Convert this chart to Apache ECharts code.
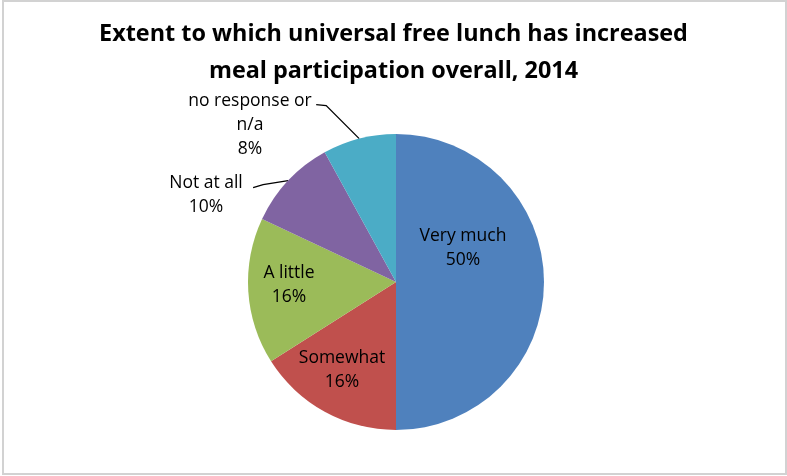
<!DOCTYPE html>
<html>
<head>
<meta charset="utf-8">
<script src="https://cdn.jsdelivr.net/npm/echarts@6/dist/echarts.min.js"></script>
<style>
html,body{margin:0;padding:0;background:#fff;}
#frame{position:absolute;left:2px;top:0px;width:785px;height:475px;border:2px solid #d2d2d2;box-sizing:border-box;}
#chart{position:absolute;left:0;top:0;width:787px;height:476px;}
</style>
</head>
<body>
<div id="frame"></div>
<div id="chart"></div>
<script>
// ---- data ----
const titleText = 'Extent to which universal free lunch has increased\nmeal participation overall, 2014';
const categories = ['Very much', 'Somewhat', 'A little', 'Not at all', 'no response or\nn/a'];
const values = [50, 16, 16, 10, 8];
const colors = ['#4F81BD', '#C0504D', '#9BBB59', '#8064A2', '#4BACC6'];

// ---- layout ----
const center = [396, 282];
const radius = 148;
const FONT = 'Open Sans';
// label placements (layout only)
const labelPlace = [
  {x: 463, y: 248, vAlign: 'middle'},
  {x: 342, y: 370, vAlign: 'middle'},
  {x: 289, y: 285, vAlign: 'middle'},
  {x: 206, y: 171, vAlign: 'top', bend: [-25, 4], end: [-35, 7]},
  {x: 250, y: 89, vAlign: 'top', bend: [-33, -33], end: [-43, -34]}
];
const outside = [false, false, false, true, true];

const total = values.reduce((a, b) => a + b, 0);
function edgePoint(i) {
  let cum = 0;
  for (let k = 0; k < i; k++) cum += values[k];
  const a = (cum + values[i] / 2) / total * Math.PI * 2;
  return [center[0] + radius * Math.sin(a), center[1] - radius * Math.cos(a)];
}

const data = categories.map((name, i) => ({
  name: name,
  value: values[i],
  itemStyle: {color: colors[i]},
  label: {position: outside[i] ? 'outside' : 'inside'},
  labelLine: {show: outside[i]}
}));

const chart = echarts.init(document.getElementById('chart'), null, {renderer: 'canvas'});
chart.setOption({
  backgroundColor: 'transparent',
  animation: false,
  title: {
    text: titleText,
    left: 'center',
    top: 11,
    textStyle: {fontFamily: FONT, fontWeight: 'bold', fontSize: 23.4, lineHeight: 37, color: '#000'}
  },
  series: [{
    type: 'pie',
    center: center,
    radius: radius,
    startAngle: 90,
    clockwise: true,
    avoidLabelOverlap: false,
    data: data,
    label: {
      show: true,
      formatter: p => p.name + '\n' + p.value + '%',
      fontFamily: FONT,
      fontSize: 17.5,
      lineHeight: 24,
      color: '#000',
      align: 'center'
    },
    labelLine: {show: true, length: 20, length2: 10, lineStyle: {color: '#000', width: 1.3}},
    labelLayout: function (params) {
      const i = params.dataIndex;
      const lp = labelPlace[i];
      const res = {x: lp.x, y: lp.y, align: 'center', verticalAlign: lp.vAlign};
      if (outside[i]) {
        const s = edgePoint(i);
        res.labelLinePoints = [s, [s[0] + lp.bend[0], s[1] + lp.bend[1]], [s[0] + lp.end[0], s[1] + lp.end[1]]];
      }
      return res;
    },
    emphasis: {disabled: true}
  }]
});
</script>
</body>
</html>
